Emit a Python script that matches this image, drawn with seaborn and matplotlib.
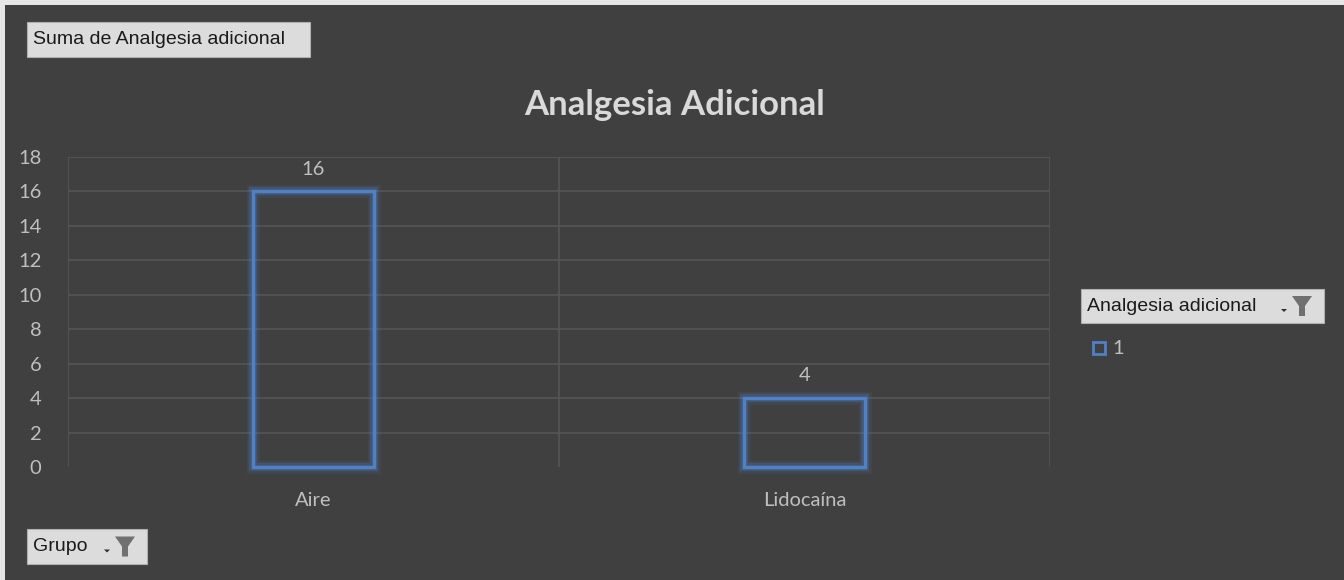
import matplotlib
matplotlib.use("Agg")
import matplotlib.pyplot as plt
import matplotlib.patheffects as pe
from matplotlib.patches import Rectangle, Polygon
import seaborn as sns
import pandas as pd

categories = ["Aire", "Lidocaína"]
values = [16, 4]
yticks = [0, 2, 4, 6, 8, 10, 12, 14, 16, 18]
title = "Analgesia Adicional"
series_name = "1"

BG = "#404040"
GRID = "#555555"
TXT = "#bfbfbf"
BLUE = "#4f81c7"

sns.set_theme(style="dark")
plt.rcParams["font.family"] = ["Lato", "DejaVu Sans"]

W, H = 1344, 580
fig = plt.figure(figsize=(W / 100, H / 100), dpi=100, facecolor="#e6e6e6")
# dark chart area
fig.patches.append(Rectangle((5 / W, 0), 1 - 5 / W, 1 - 5 / H, transform=fig.transFigure,
                             facecolor=BG, edgecolor="none", zorder=-10))

ax = fig.add_axes([68 / W, 1 - 467 / H, (1050 - 68) / W, (467 - 157) / H])
ax.set_facecolor(BG)

df = pd.DataFrame({"Grupo": categories, "Valor": values})
sns.barplot(data=df, x="Grupo", y="Valor", ax=ax, width=0.245, fill=False,
            color=BLUE, linewidth=2.5, errorbar=None, zorder=3)
for p in ax.patches:
    p.set_edgecolor(BLUE)
    p.set_clip_on(False)
    p.set_path_effects([
        pe.Stroke(linewidth=9, foreground=BLUE, alpha=0.12),
        pe.Stroke(linewidth=6, foreground=BLUE, alpha=0.25),
        pe.Normal(),
    ])

ax.set_ylim(0, 18)
ax.set_xlim(-0.5, 1.5)
ax.set_yticks(yticks)
ax.set_yticklabels([str(t) for t in yticks], color=TXT, fontsize=14.5)
ax.tick_params(axis="y", length=0, pad=19)
ax.tick_params(axis="x", length=0, pad=18, labelcolor=TXT, labelsize=14.5)
ax.set_xlabel("")
ax.set_ylabel("")
for s in ax.spines.values():
    s.set_visible(False)
ax.grid(False)
for t in yticks[1:]:
    ax.axhline(t, color=GRID, lw=1.2, zorder=1)
ax.axvline(-0.5, color=GRID, lw=1.2, zorder=1)
ax.axvline(0.5, color=GRID, lw=1.2, zorder=1)
ax.axvline(1.5, color=GRID, lw=1.2, zorder=1)

for i, v in enumerate(values):
    ax.annotate(str(v), (i, v), xytext=(0, 10), textcoords="offset points",
                ha="center", va="bottom", color=TXT, fontsize=14.5)

fig.text(675 / W, 1 - 105 / H, title, ha="center", va="center", color="#d9d9d9",
         fontsize=25, fontweight="bold")


def button(x0, y0, x1, y1, label, funnel=False):
    fig.patches.append(Rectangle((x0 / W, 1 - y1 / H), (x1 - x0) / W, (y1 - y0) / H,
                                 transform=fig.transFigure, facecolor="#dcdcdc",
                                 edgecolor="#b0b0b0", lw=0.8, zorder=5))
    fig.text((x0 + 6) / W, 1 - ((y0 + y1) / 2) / H, label, ha="left", va="center",
             color="#1a1a1a", fontsize=14, family=["Liberation Sans", "DejaVu Sans"], zorder=6)
    if funnel:
        fx = x1 - 22
        cy = (y0 + y1) / 2
        pts = [(fx - 10, cy - 10), (fx + 10, cy - 10), (fx + 3, cy), (fx + 3, cy + 10),
               (fx - 3, cy + 10), (fx - 3, cy)]
        fig.patches.append(Polygon([(px / W, 1 - py / H) for px, py in pts],
                                   transform=fig.transFigure, facecolor="#707070",
                                   edgecolor="none", zorder=6))
        ax_ = fx - 18
        tri = [(ax_ - 3, cy + 3), (ax_ + 3, cy + 3), (ax_, cy + 6)]
        fig.patches.append(Polygon([(px / W, 1 - py / H) for px, py in tri],
                                   transform=fig.transFigure, facecolor="#303030",
                                   edgecolor="none", zorder=6))


button(27, 22, 310, 57, "Suma de Analgesia adicional")
button(27, 529, 147, 564, "Grupo", funnel=True)
button(1081, 289, 1324, 323, "Analgesia adicional", funnel=True)

# legend entry
fig.patches.append(Rectangle((1093 / W, 1 - 354 / H), 12 / W, 12 / H, transform=fig.transFigure,
                             facecolor="none", edgecolor=BLUE, lw=2, zorder=5))
fig.text(1112 / W, 1 - 348 / H, series_name, ha="left", va="center", color=TXT, fontsize=14.5)

fig.savefig("out.png", dpi=100, facecolor=fig.get_facecolor())
